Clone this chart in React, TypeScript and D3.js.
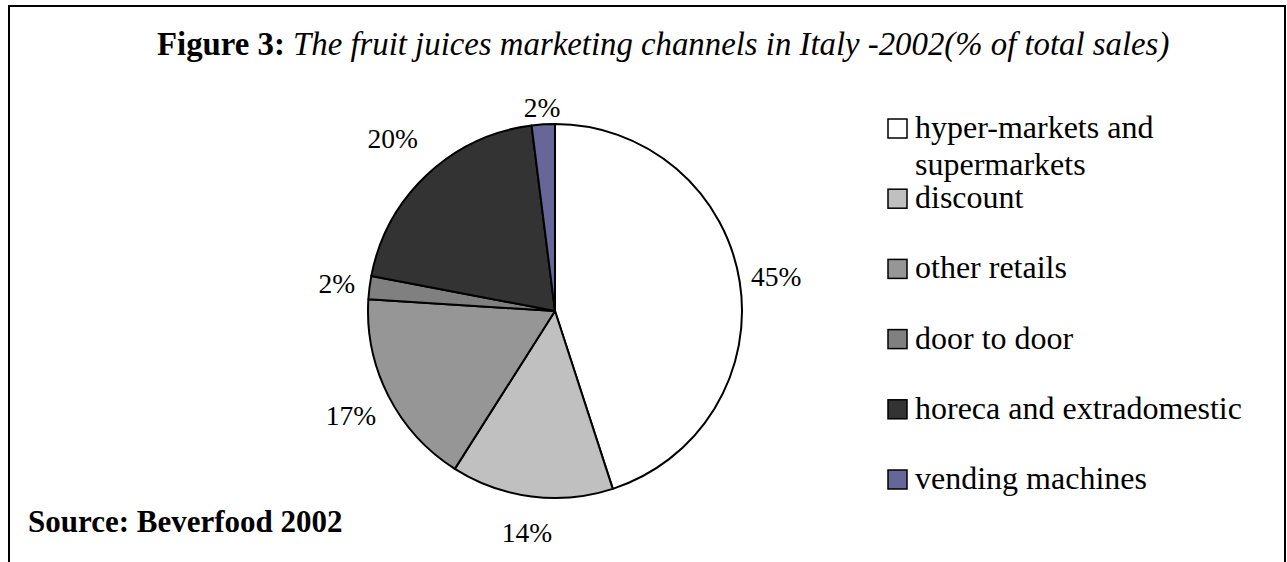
import React from "react";
import * as d3 from "d3";

const categories = [
  "hyper-markets and supermarkets",
  "discount",
  "other retails",
  "door to door",
  "horeca and extradomestic",
  "vending machines",
];
const values = [45, 14, 17, 2, 20, 2];
const colors = ["#FFFFFF", "#C0C0C0", "#969696", "#808080", "#333333", "#666699"];
const legendLines = [
  ["hyper-markets and", "supermarkets"],
  ["discount"],
  ["other retails"],
  ["door to door"],
  ["horeca and extradomestic"],
  ["vending machines"],
];
const titleBold = "Figure 3:";
const titleItalic = "The fruit juices marketing channels in Italy -2002(% of total sales)";
const sourceText = "Source: Beverfood 2002";

// layout constants
const W = 1287;
const H = 562;
const cx = 555;
const cy = 311;
const R = 187;
const labelRadii = [224, 223, 229, 220, 237, 204];
const FONT = "'Liberation Serif', 'Times New Roman', Times, serif";

export default function App() {
  const pie = d3
    .pie<number>()
    .sort(null)
    .value((d) => d);
  const arcs = pie(values);
  const arcGen = d3.arc<d3.PieArcDatum<number>>().innerRadius(0).outerRadius(R);
  const total = d3.sum(values);

  const legendY = d3.scaleLinear().domain([0, 5]).range([119, 470]);

  return (
    <svg
      width={W}
      height={H}
      style={{ position: "absolute", left: 0, top: 0, background: "#fff" }}
      fontFamily={FONT}
    >
      <rect x={0} y={0} width={W} height={H} fill="#fff" />
      <rect x={9} y={6} width={1276} height={600} fill="none" stroke="#000" strokeWidth={2} />

      <text x={157} y={55} fontSize={32.8} fill="#000">
        <tspan fontWeight="bold">{titleBold}</tspan>
        <tspan fontStyle="italic">{" " + titleItalic}</tspan>
      </text>

      <g transform={`translate(${cx},${cy})`}>
        {arcs.map((a, i) => (
          <path
            key={i}
            d={arcGen(a) || ""}
            fill={colors[i]}
            stroke="#000"
            strokeWidth={2}
            strokeLinejoin="round"
          />
        ))}
        {arcs.map((a, i) => {
          const mid = (a.startAngle + a.endAngle) / 2;
          const r = labelRadii[i];
          const x = Math.sin(mid) * r;
          const y = -Math.cos(mid) * r;
          return (
            <text
              key={"l" + i}
              x={x}
              y={y}
              dy="0.35em"
              textAnchor="middle"
              fontSize={27.5}
              fill="#000"
            >
              {d3.format(".0%")(a.value / total)}
            </text>
          );
        })}
      </g>

      <g>
        {categories.map((c, i) => {
          const y0 = legendY(i);
          return (
            <g key={c}>
              <rect
                x={888}
                y={y0}
                width={19}
                height={19}
                fill={colors[i]}
                stroke="#000"
                strokeWidth={1.5}
              />
              <text x={915} y={y0 + 19} fontSize={32} fill="#000">
                {legendLines[i].map((ln, j) => (
                  <tspan key={j} x={915} dy={j === 0 ? 0 : 37}>
                    {ln}
                  </tspan>
                ))}
              </text>
            </g>
          );
        })}
      </g>

      <text x={28} y={532} fontSize={31} fontWeight="bold" fill="#000">
        {sourceText}
      </text>
    </svg>
  );
}
